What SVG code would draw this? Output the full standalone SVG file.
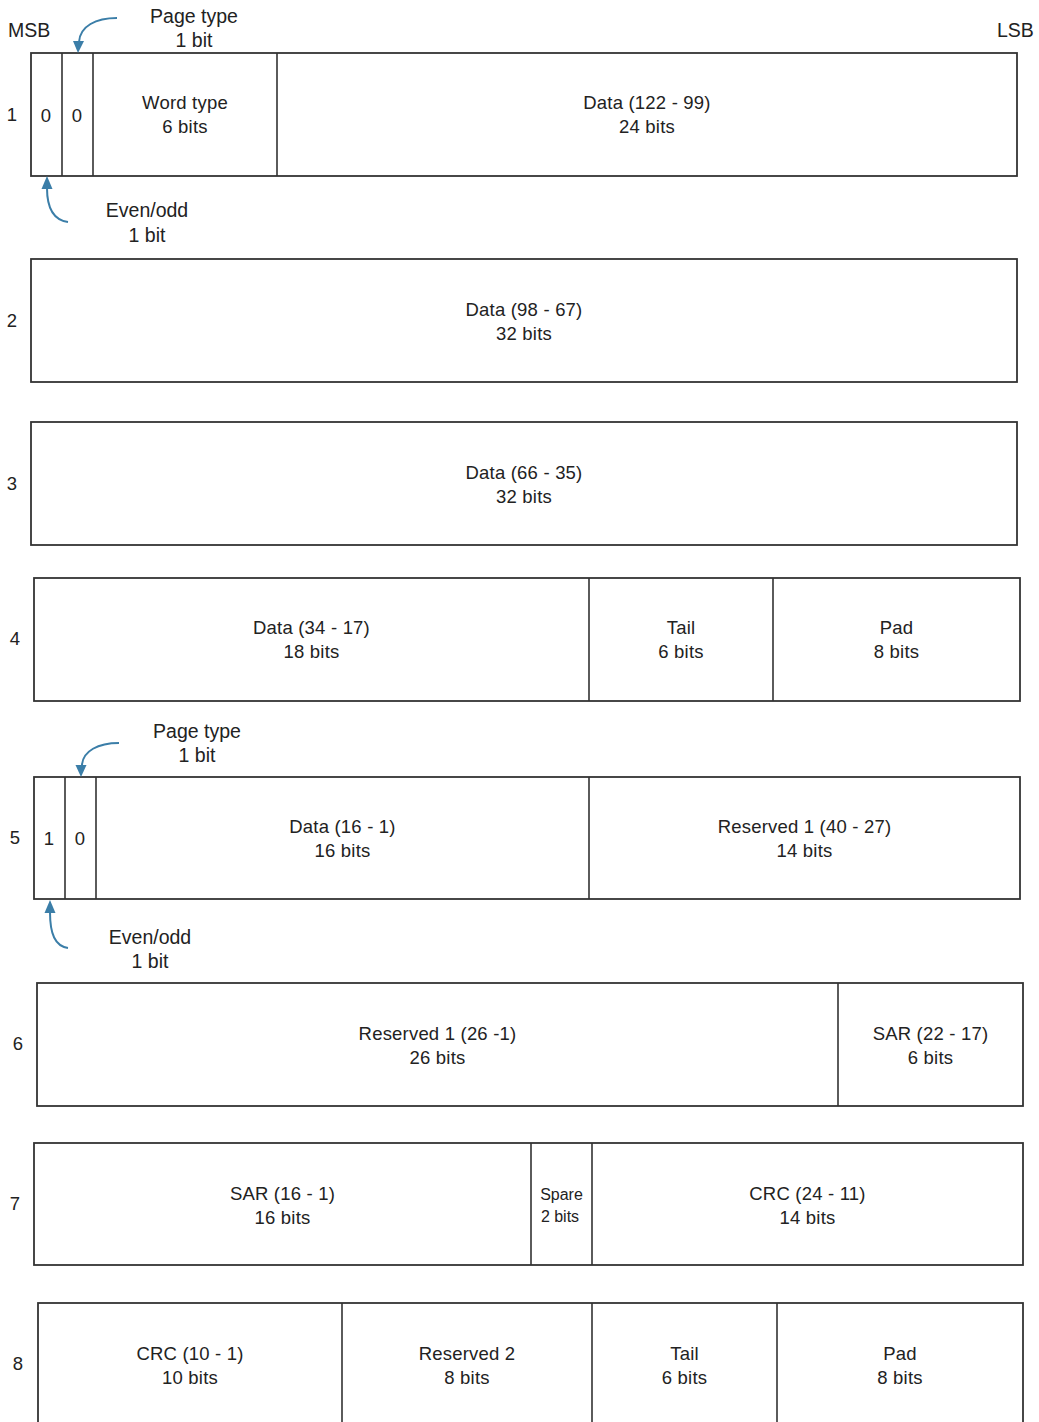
<svg xmlns="http://www.w3.org/2000/svg" width="1039" height="1422" viewBox="0 0 1039 1422">
<style>
text{font-family:"Liberation Sans",Arial,sans-serif;font-size:18.5px;fill:#222;text-anchor:middle;letter-spacing:0.2px}
.box{fill:#fff;stroke:#333;stroke-width:1.8}
.div{stroke:#333;stroke-width:1.6}
.small{font-size:16px;letter-spacing:0}
.big{font-size:19.5px;letter-spacing:0}
.lab{text-anchor:start}
.arr{fill:none;stroke:#3b7ea8;stroke-width:2}
.ah{fill:#3b7ea8}
</style>
<rect width="1039" height="1422" fill="#fff"/>
<text class="lab big" x="8" y="37">MSB</text>
<text class="lab big" x="997" y="37">LSB</text>

<g id="row1">
<rect class="box" x="31" y="53" width="986" height="123"/>
<line class="div" x1="62" y1="53" x2="62" y2="176"/>
<line class="div" x1="93" y1="53" x2="93" y2="176"/>
<line class="div" x1="277" y1="53" x2="277" y2="176"/>
<text x="12" y="121">1</text>
<text x="46" y="122">0</text>
<text x="77" y="122">0</text>
<text x="185" y="109">Word type</text><text x="185" y="133">6 bits</text>
<text x="647" y="109">Data (122 - 99)</text><text x="647" y="133">24 bits</text>
<text class="big" x="194" y="23">Page type</text><text class="big" x="194" y="47">1 bit</text>
<text class="big" x="147" y="217">Even/odd</text><text class="big" x="147" y="242">1 bit</text>
</g>

<g id="row2">
<rect class="box" x="31" y="259" width="986" height="123"/>
<text x="12" y="327">2</text>
<text x="524" y="316">Data (98 - 67)</text><text x="524" y="340">32 bits</text>
</g>

<g id="row3">
<rect class="box" x="31" y="422" width="986" height="123"/>
<text x="12" y="490">3</text>
<text x="524" y="479">Data (66 - 35)</text><text x="524" y="503">32 bits</text>
</g>

<g id="row4">
<rect class="box" x="34" y="578" width="986" height="123"/>
<line class="div" x1="589" y1="578" x2="589" y2="701"/>
<line class="div" x1="773" y1="578" x2="773" y2="701"/>
<text x="15" y="645">4</text>
<text x="311.5" y="634">Data (34 - 17)</text><text x="311.5" y="658">18 bits</text>
<text x="681" y="634">Tail</text><text x="681" y="658">6 bits</text>
<text x="896.5" y="634">Pad</text><text x="896.5" y="658">8 bits</text>
</g>

<g id="row5">
<rect class="box" x="34" y="777" width="986" height="122"/>
<line class="div" x1="65" y1="777" x2="65" y2="899"/>
<line class="div" x1="96" y1="777" x2="96" y2="899"/>
<line class="div" x1="589" y1="777" x2="589" y2="899"/>
<text x="15" y="844">5</text>
<text x="49" y="845">1</text>
<text x="80" y="845">0</text>
<text x="342.5" y="833">Data (16 - 1)</text><text x="342.5" y="857">16 bits</text>
<text x="804.5" y="833">Reserved 1 (40 - 27)</text><text x="804.5" y="857">14 bits</text>
<text class="big" x="197" y="738">Page type</text><text class="big" x="197" y="762">1 bit</text>
<text class="big" x="150" y="944">Even/odd</text><text class="big" x="150" y="968">1 bit</text>
</g>

<g id="row6">
<rect class="box" x="37" y="983" width="986" height="123"/>
<line class="div" x1="838" y1="983" x2="838" y2="1106"/>
<text x="18" y="1050">6</text>
<text x="437.5" y="1040">Reserved 1 (26 -1)</text><text x="437.5" y="1064">26 bits</text>
<text x="930.5" y="1040">SAR (22 - 17)</text><text x="930.5" y="1064">6 bits</text>
</g>

<g id="row7">
<rect class="box" x="34" y="1143" width="989" height="122"/>
<line class="div" x1="531" y1="1143" x2="531" y2="1265"/>
<line class="div" x1="592" y1="1143" x2="592" y2="1265"/>
<text x="15" y="1210">7</text>
<text x="282.5" y="1200">SAR (16 - 1)</text><text x="282.5" y="1224">16 bits</text>
<text class="small" x="561.5" y="1200">Spare</text><text class="small" x="560" y="1222">2 bits</text>
<text x="807.5" y="1200">CRC (24 - 11)</text><text x="807.5" y="1224">14 bits</text>
</g>

<g id="row8">
<rect class="box" x="38" y="1303" width="985" height="130"/>
<line class="div" x1="342" y1="1303" x2="342" y2="1433"/>
<line class="div" x1="592" y1="1303" x2="592" y2="1433"/>
<line class="div" x1="777" y1="1303" x2="777" y2="1433"/>
<text x="18" y="1370">8</text>
<text x="190" y="1360">CRC (10 - 1)</text><text x="190" y="1384">10 bits</text>
<text x="467" y="1360">Reserved 2</text><text x="467" y="1384">8 bits</text>
<text x="684.5" y="1360">Tail</text><text x="684.5" y="1384">6 bits</text>
<text x="900" y="1360">Pad</text><text x="900" y="1384">8 bits</text>
</g>

<g id="connectors">
<path class="arr" d="M117,18 C96,18 80,26 79,42"/>
<polygon class="ah" points="78,53 73,41 84,41"/>
<path class="arr" d="M68,222 C53,220 47,208 47,188"/>
<polygon class="ah" points="47,176 41.5,189 52.5,189"/>
<path class="arr" d="M119,743 C98,743 83,751 82,765"/>
<polygon class="ah" points="81,777 75.5,765 86.5,765"/>
<path class="arr" d="M68,948 C55,946 50,934 50,912"/>
<polygon class="ah" points="50,900 44.5,913 55.5,913"/>
</g>
</svg>
